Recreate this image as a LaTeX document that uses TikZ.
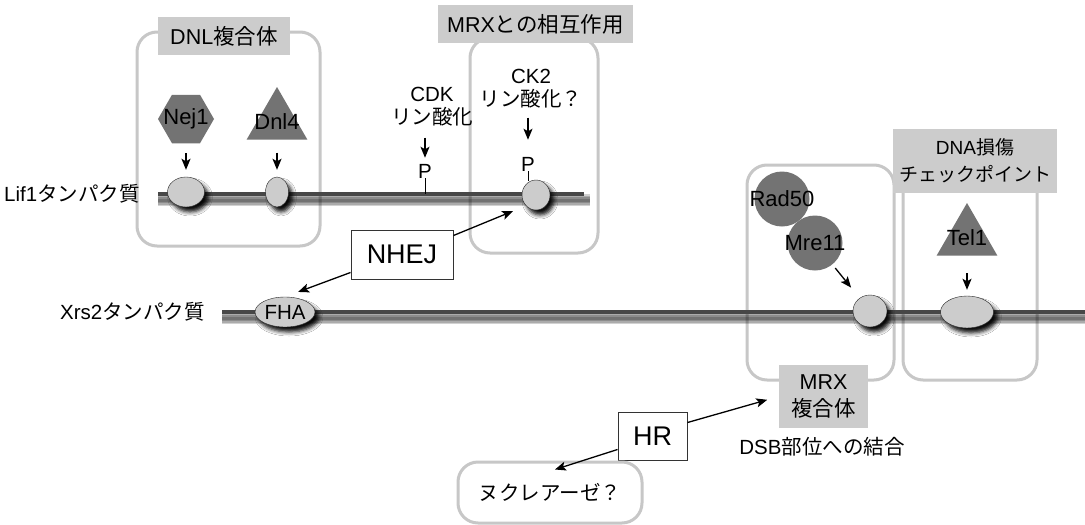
\documentclass[tikz,border=0pt]{standalone}
\usepackage{fontspec}
\setmainfont{Liberation Sans}
\newfontfamily\jpfont{Noto Sans CJK JP}
\usetikzlibrary{shapes.geometric, arrows.meta, shadows.blur}
\newcommand{\ja}[1]{{\jpfont #1}}

\begin{document}
\begin{tikzpicture}[
        x=1pt, y=-1pt, % one unit = one pixel, y grows downwards
        font=\fontsize{20.5}{23}\selectfont,
        grp/.style = {draw=black!22, line width=3pt, rounded corners=20pt, inner sep=0pt}, % rounded frames
        tag/.style = {fill=black!20, inner sep=0pt, align=center, font=\fontsize{21.5}{27}\selectfont}, % grey titles
        site/.style = {ellipse, draw=black!85, fill=black!20, inner sep=0pt,
                blur shadow={shadow xshift=4pt, shadow yshift=-5pt, shadow blur radius=4pt, shadow opacity=95}},
        prot/.style = {fill=black!55, inner sep=0pt, font=\fontsize{22}{24}\selectfont}, % partner proteins
        chain/.style = {line width=4.5pt, draw=black!72},
        chainshade/.style = {line width=#1, draw=black, opacity=0.18},
        arr/.style = {-{Stealth[length=11pt, width=9pt, inset=2.5pt]}, line width=1.3pt},
        pathbox/.style = {draw=black!80, fill=white, line width=1pt, inner sep=0pt, font=\fontsize{27}{30}\selectfont},
        lbl/.style = {inner sep=0pt, align=center},
    ]
    \useasboundingbox[fill=white] (0,0) rectangle (1085,525);

    % frames
    \node[grp, minimum width=183pt, minimum height=214pt] (dnlbox) at (228.5,139) {};
    \node[grp, minimum width=128pt, minimum height=215pt] (mrxbox) at (534,145.5) {};
    \node[grp, minimum width=147pt, minimum height=215pt] (mrxcbox) at (820.5,272.5) {};
    \node[grp, minimum width=134pt, minimum height=215pt] (dnabox) at (970,272.5) {};

    % protein chains
    \coordinate (lifL) at (158,194);
    \coordinate (lifR) at (584,194);
    \coordinate (xrsL) at (222,312);
    \coordinate (xrsR) at (1085,312);
    \foreach \w in {12pt,9pt,6pt,3pt} {
        \draw[chainshade=\w] ([yshift=-6pt]lifL) -- ([yshift=-6pt,xshift=6pt]lifR);
        \draw[chainshade=\w] ([yshift=-6pt]xrsL) -- ([yshift=-6pt]xrsR);
    }
    \draw[chain] (lifL) -- (lifR);
    \draw[chain] (xrsL) -- (xrsR);
    \node[lbl, anchor=east] (lifname) at (140,194) {Lif1\ja{タンパク質}};
    \node[lbl, anchor=east] (xrsname) at (205,312) {Xrs2\ja{タンパク質}};

    % binding sites
    \node[site, minimum width=37pt, minimum height=30pt] (s1) at (186,192) {};
    \node[site, minimum width=23pt, minimum height=30pt] (s2) at (277,192) {};
    \node[site, minimum width=28pt, minimum height=30pt] (s3) at (536,195) {};
    \node[site, minimum width=60pt, minimum height=30pt] (fha) at (285,312) {FHA};
    \node[site, minimum width=34pt, minimum height=32pt] (s4) at (870,311) {};
    \node[site, minimum width=53pt, minimum height=32pt] (s5) at (967,312) {};

    % partners
    \node[prot, regular polygon, regular polygon sides=6, minimum size=56pt] (nej1) at (186,119) {\makebox[0pt]{Nej1}};
    \node[prot, regular polygon, regular polygon sides=3, minimum size=70pt] (dnl4) at (277,122) {\makebox[0pt]{Dnl4}};
    \node[prot, circle, minimum size=55pt] (rad50) at (782,199) {\makebox[0pt]{Rad50}};
    \node[prot, circle, minimum size=55pt] (mre11) at (815,243) {\makebox[0pt]{Mre11}};
    \node[prot, regular polygon, regular polygon sides=3, minimum size=70pt] (tel1) at (967,238) {\makebox[0pt]{Tel1}};

    % phosphorylation
    \node[lbl] (cdk) at (432,107) {CDK\\\ja{リン酸化}};
    \node[lbl] (ck2) at (531,89) {CK2\\\ja{リン酸化？}};
    \node[lbl] (p1) at (425,171) {P};
    \node[lbl] (p2) at (528,164) {P};
    \draw[line width=0.8pt] (p1.south) -- (p1.south |- lifL);
    \draw[line width=0.8pt] (p2.south) -- ++(0,10);

    % titles
    \node[tag, minimum width=132pt, minimum height=38pt] (dnltag) at (224,36) {DNL\ja{複合体}};
    \node[tag, minimum width=195pt, minimum height=38pt] (mrxtag) at (535.5,24) {MRX\ja{との相互作用}};
    \node[tag, minimum width=164pt, minimum height=64pt, font=\fontsize{19}{27}\selectfont] (dnatag) at (975,161) {DNA\ja{損傷}\\\ja{チェックポイント}};
    \node[tag, minimum width=89pt, minimum height=63pt] (mrxctag) at (823.5,396.5) {MRX\\\ja{複合体}};

    % pathways
    \node[pathbox, minimum width=102pt, minimum height=49pt] (nhej) at (402,254.5) {NHEJ};
    \node[pathbox, minimum width=69pt, minimum height=48pt] (hr) at (652.5,436) {HR};
    \node[grp, minimum width=184pt, minimum height=61pt] (nuc) at (550,492.5) {\ja{ヌクレアーゼ？}};
    \node[lbl] (dsb) at (822,447) {DSB\ja{部位への結合}};

    % arrows
    \draw[arr, shorten <=10pt, shorten >=7pt] (nej1) -- (s1);
    \draw[arr, shorten <=13pt, shorten >=7pt] (dnl4) -- (s2);
    \draw[arr, shorten <=11pt, shorten >=6pt] (p1 |- cdk.south) -- (p1.north);
    \draw[arr, shorten <=9pt, shorten >=17pt] (p2 |- ck2.south) -- (p2.north);
    \draw[arr, shorten <=4.5pt, shorten >=13.5pt] (mre11) -- (s4);
    \draw[arr, shorten <=17.5pt, shorten >=6pt] (tel1) -- (s5);
    \draw[arr, shorten >=14pt] ([yshift=-6pt]nhej.north east) -- (s3.south west);
    \draw[arr, shorten >=14pt] ([yshift=7pt]nhej.south west) -- (fha.north);
    \draw[arr, shorten >=12pt] ([yshift=-11pt]hr.north east) -- (mrxctag.west);
    \draw[arr] ([yshift=11pt]hr.south west) -- ([xshift=5pt,yshift=-9pt]nuc.north);
\end{tikzpicture}
\end{document}
